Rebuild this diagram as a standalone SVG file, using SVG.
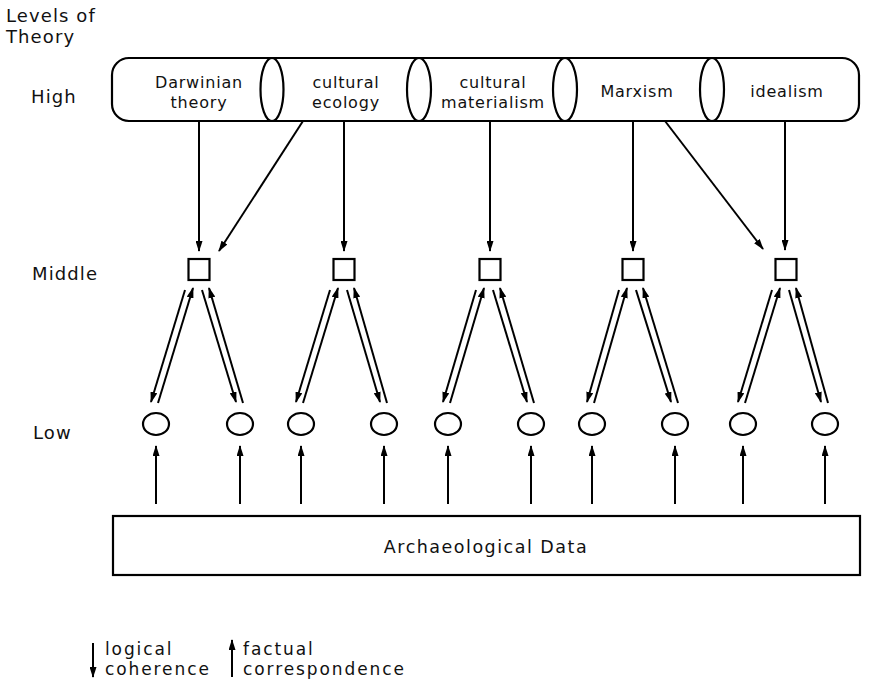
<svg xmlns="http://www.w3.org/2000/svg" width="874" height="688" viewBox="0 0 874 688">
<style>
text{font-family:"DejaVu Sans","Open Sans",sans-serif;fill:#111;}
.lbl{font-size:18px;letter-spacing:1.1px;}
.pt{font-size:16px;letter-spacing:0.8px;text-anchor:middle;}
.lg{font-size:17px;letter-spacing:1.9px;}
.sh{fill:#fff;stroke:#000;stroke-width:2.2;}
.ar{stroke:#000;stroke-width:2;fill:none;marker-end:url(#ah);}
</style>
<defs>
<marker id="ah" markerUnits="userSpaceOnUse" markerWidth="11" markerHeight="7" refX="10" refY="3.5" orient="auto">
<path d="M0,0 L11,3.5 L0,7 z" fill="#000"/>
</marker>
</defs>
<rect width="874" height="688" fill="#fff"/>
<g id="labels">
<text class="lbl" x="6" y="22">Levels of</text>
<text class="lbl" x="6" y="43">Theory</text>
<text class="lbl" x="31" y="103">High</text>
<text class="lbl" x="32" y="280">Middle</text>
<text class="lbl" x="33" y="439">Low</text>
</g>
<g id="high-theories">
<rect class="sh" x="112" y="58" width="747" height="63" rx="17" ry="17"/>
<ellipse class="sh" cx="272" cy="89.5" rx="11.5" ry="31.5" fill="none"/>
<ellipse class="sh" cx="419" cy="89.5" rx="12" ry="31.5" fill="none"/>
<ellipse class="sh" cx="565" cy="89.5" rx="12" ry="31.5" fill="none"/>
<ellipse class="sh" cx="712" cy="89.5" rx="12" ry="31.5" fill="none"/>
</g>
<g id="darwinian"><text class="pt" x="199" y="88">Darwinian</text><text class="pt" x="199" y="108">theory</text></g>
<g id="cultural-ecology"><text class="pt" x="346" y="88">cultural</text><text class="pt" x="346" y="108">ecology</text></g>
<g id="cultural-materialism"><text class="pt" x="493" y="88">cultural</text><text class="pt" x="493" y="108">materialism</text></g>
<g id="marxism"><text class="pt" x="637" y="97">Marxism</text></g>
<g id="idealism"><text class="pt" x="787" y="97">idealism</text></g>
<g id="middle">
<rect class="sh" x="188.5" y="259" width="21" height="21"/>
<rect class="sh" x="333.5" y="259" width="21" height="21"/>
<rect class="sh" x="479.5" y="259" width="21" height="21"/>
<rect class="sh" x="622.5" y="259" width="21" height="21"/>
<rect class="sh" x="775.5" y="259" width="21" height="21"/>
</g>
<g id="low">
<ellipse class="sh" cx="156" cy="424" rx="13" ry="11"/>
<ellipse class="sh" cx="240" cy="424" rx="13" ry="11"/>
<ellipse class="sh" cx="301" cy="424" rx="13" ry="11"/>
<ellipse class="sh" cx="384" cy="424" rx="13" ry="11"/>
<ellipse class="sh" cx="448" cy="424" rx="13" ry="11"/>
<ellipse class="sh" cx="531" cy="424" rx="13" ry="11"/>
<ellipse class="sh" cx="592" cy="424" rx="13" ry="11"/>
<ellipse class="sh" cx="675" cy="424" rx="13" ry="11"/>
<ellipse class="sh" cx="743" cy="424" rx="13" ry="11"/>
<ellipse class="sh" cx="825" cy="424" rx="13" ry="11"/>
</g>
<g id="data">
<rect class="sh" x="113" y="516" width="747" height="59"/>
<text x="486" y="553" text-anchor="middle" style="font-size:17.5px;letter-spacing:1.5px">Archaeological Data</text>
</g>
<g id="connectors">
<line class="ar" x1="199" y1="121" x2="199" y2="251"/>
<line class="ar" x1="303" y1="121" x2="219" y2="251"/>
<line class="ar" x1="344" y1="121" x2="344" y2="251"/>
<line class="ar" x1="490" y1="121" x2="490" y2="251"/>
<line class="ar" x1="633" y1="121" x2="633" y2="251"/>
<line class="ar" x1="665" y1="121" x2="763" y2="249"/>
<line class="ar" x1="785" y1="121" x2="785" y2="250"/>

<line class="ar" x1="185" y1="290" x2="151" y2="402"/>
<line class="ar" x1="158" y1="403" x2="193" y2="288"/>
<line class="ar" x1="202" y1="290" x2="236" y2="402"/>
<line class="ar" x1="243" y1="403" x2="209" y2="288"/>

<line class="ar" x1="330" y1="290" x2="296" y2="402"/>
<line class="ar" x1="303" y1="403" x2="338" y2="288"/>
<line class="ar" x1="347" y1="290" x2="380" y2="402"/>
<line class="ar" x1="387" y1="403" x2="354" y2="288"/>

<line class="ar" x1="476" y1="290" x2="443" y2="402"/>
<line class="ar" x1="450" y1="403" x2="484" y2="288"/>
<line class="ar" x1="493" y1="290" x2="527" y2="402"/>
<line class="ar" x1="534" y1="403" x2="500" y2="288"/>

<line class="ar" x1="619" y1="290" x2="587" y2="402"/>
<line class="ar" x1="594" y1="403" x2="627" y2="288"/>
<line class="ar" x1="636" y1="290" x2="671" y2="402"/>
<line class="ar" x1="678" y1="403" x2="643" y2="288"/>

<line class="ar" x1="772" y1="290" x2="738" y2="402"/>
<line class="ar" x1="745" y1="403" x2="780" y2="288"/>
<line class="ar" x1="789" y1="290" x2="821" y2="402"/>
<line class="ar" x1="828" y1="403" x2="796" y2="288"/>

<line class="ar" x1="156" y1="504" x2="156" y2="446"/>
<line class="ar" x1="240" y1="504" x2="240" y2="446"/>
<line class="ar" x1="301" y1="504" x2="301" y2="446"/>
<line class="ar" x1="384" y1="504" x2="384" y2="446"/>
<line class="ar" x1="448" y1="504" x2="448" y2="446"/>
<line class="ar" x1="531" y1="504" x2="531" y2="446"/>
<line class="ar" x1="592" y1="504" x2="592" y2="446"/>
<line class="ar" x1="675" y1="504" x2="675" y2="446"/>
<line class="ar" x1="743" y1="504" x2="743" y2="446"/>
<line class="ar" x1="825" y1="504" x2="825" y2="446"/>
</g>
<g id="legend">
<line class="ar" x1="93" y1="643" x2="93" y2="677"/>
<text class="lg" x="105" y="655">logical</text>
<text class="lg" x="105" y="675">coherence</text>
<line class="ar" x1="232" y1="677" x2="232" y2="640"/>
<text class="lg" x="243" y="655">factual</text>
<text class="lg" x="243" y="675">correspondence</text>
</g>
</svg>
